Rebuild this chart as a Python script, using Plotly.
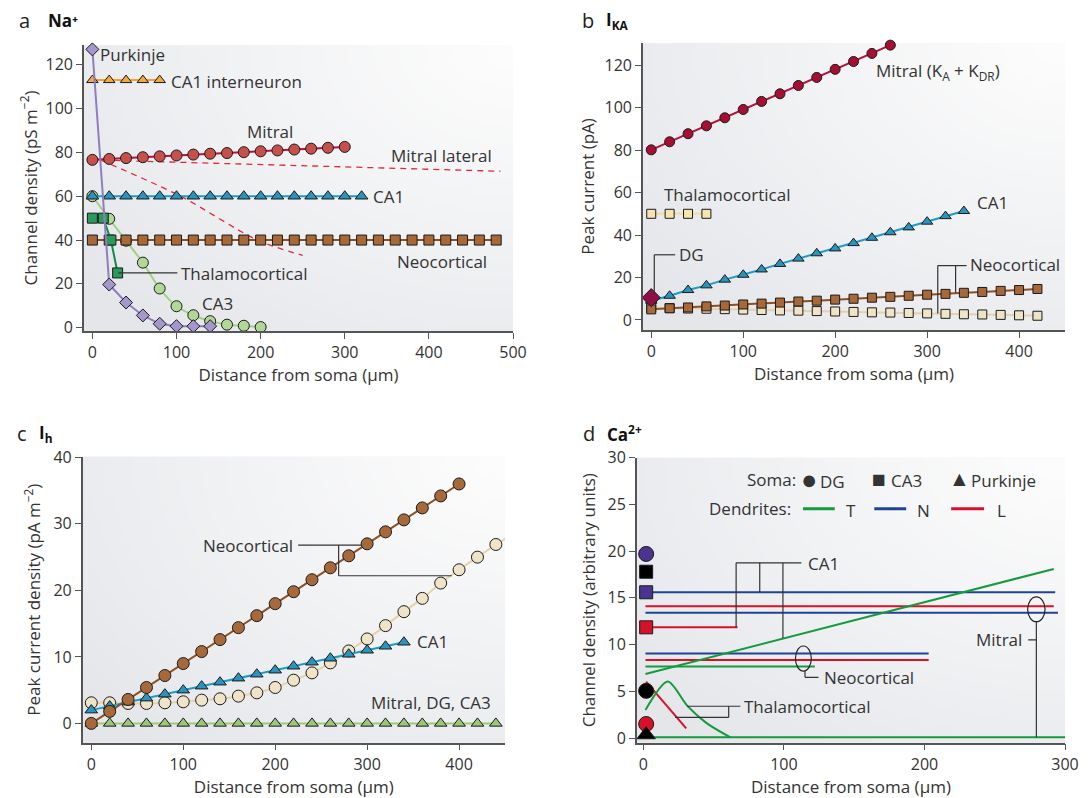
import base64
import struct
import zlib

import numpy as np
import plotly.graph_objects as go

# ---------------- DATA ----------------
dist = [0, 20, 40, 60, 80, 100, 120, 140, 160, 180, 200, 220, 240, 260, 280,
        300, 320, 340, 360, 380, 400, 420, 440, 460, 480]

# Panel a: Na+
a_purkinje_x = [0, 20, 40, 60, 80, 100, 120, 140]
a_purkinje_y = [127, 19.7, 11.5, 5.6, 1.8, 0.7, 0.7, 0.7]
a_ca1int_x = dist[:5]
a_ca1int_y = [113, 113, 113, 113, 113]
a_mitral_x = dist[:16]
a_mitral_y = [76.6, 77.0, 77.4, 77.8, 78.2, 78.6, 79.0, 79.4, 79.7, 80.1,
              80.5, 80.9, 81.3, 81.7, 82.1, 82.5]
a_mitlat1_x = [0, 485]
a_mitlat1_y = [76.6, 71.4]
a_mitlat2_x = [10, 105, 196, 250]
a_mitlat2_y = [76.5, 60, 40, 33]
a_ca1_x = dist[:17]
a_ca1_y = [60] * 17
a_neo_x = dist[:25]
a_neo_y = [40] * 25
a_thal_x = [0, 13, 22, 30]
a_thal_y = [50, 50, 40, 25]
a_ca3_x = dist[:11]
a_ca3_y = [60, 49.7, 39.7, 29.7, 17.9, 9.8, 5.7, 3.0, 1.4, 0.9, 0.3]

# Panel b: I_KA
b_mitral_x = dist[:14]
b_mitral_y = [80.1, 83.9, 87.7, 91.4, 95.2, 99.1, 102.9, 106.5, 110.4, 114.2,
              118.0, 121.7, 125.5, 129.4]
b_thal_x = dist[:4]
b_thal_y = [50, 50, 50, 50]
b_ca1_x = dist[:18]
b_ca1_y = [9.1, 11.4, 14.1, 16.3, 19.0, 21.3, 23.8, 26.4, 28.9, 31.4, 33.7,
           36.2, 38.7, 41.3, 43.6, 46.3, 48.9, 51.3]
b_dg_x = [0]
b_dg_y = [10.5]
b_neo1_x = dist[:22]
b_neo1_y = [5.0, 5.5, 5.9, 6.4, 6.8, 7.3, 7.7, 8.2, 8.7, 9.1, 9.6, 10.0, 10.5,
            10.9, 11.4, 11.9, 12.3, 12.8, 13.2, 13.7, 14.1, 14.6]
b_neo2_x = dist[:22]
b_neo2_y = [5.8, 5.6, 5.4, 5.3, 5.1, 4.9, 4.7, 4.5, 4.4, 4.2, 4.0, 3.8, 3.6,
            3.5, 3.3, 3.1, 2.9, 2.7, 2.6, 2.4, 2.2, 2.0]

# Panel c: I_h
c_neo1_x = dist[:21]
c_neo1_y = [0, 1.8, 3.6, 5.4, 7.2, 9.0, 10.8, 12.6, 14.4, 16.2, 18.0, 19.8,
            21.6, 23.4, 25.2, 27.0, 28.8, 30.6, 32.4, 34.2, 36.0]
c_neo2_x = dist[:23]
c_neo2_y = [3.1, 3.1, 3.0, 3.0, 3.1, 3.25, 3.5, 3.7, 4.1, 4.6, 5.4, 6.5, 7.6,
            9.1, 10.9, 12.7, 14.7, 16.8, 18.8, 21.1, 23.1, 25.0, 26.9]
c_neo2_tail_x = [440, 452]
c_neo2_tail_y = [26.9, 27.9]
c_ca1_x = dist[:18]
c_ca1_y = [2.0, 2.6, 3.2, 3.8, 4.4, 5.0, 5.6, 6.2, 6.8, 7.4, 8.0, 8.6, 9.2,
           9.8, 10.4, 11.0, 11.6, 12.2]
c_mdc_x = dist[:23]
c_mdc_y = [0] * 23

# Panel d: Ca2+
d_soma_x = [2, 2, 2, 2, 2, 2, 2]
d_soma_y = [19.7, 17.8, 15.6, 11.85, 5.05, 1.5, 0.35]
d_soma_symbol = ["circle", "square", "square", "square", "circle", "circle", "triangle-up"]
d_soma_color = ["#4b348f", "#000000", "#4b348f", "#d8102a", "#000000", "#d8102a", "#000000"]

d_mitral_N1_x = [1.5, 293]
d_mitral_N1_y = [15.6, 15.6]
d_mitral_L_x = [1.5, 292]
d_mitral_L_y = [14.1, 14.1]
d_mitral_N2_x = [1.5, 295]
d_mitral_N2_y = [13.4, 13.4]
d_ca3_L_x = [2, 67]
d_ca3_L_y = [11.85, 11.85]
d_mitral_T_x = [1.5, 292]
d_mitral_T_y = [6.85, 18.1]
d_neo_N_x = [1.5, 203]
d_neo_N_y = [9.05, 9.05]
d_neo_L_x = [1.5, 203]
d_neo_L_y = [8.35, 8.35]
d_neo_T_x = [1.5, 122]
d_neo_T_y = [7.65, 7.65]
d_thal_L_x = [1.9, 30.5]
d_thal_L_y = [6.03, 1.04]
d_thal_T_x = [1.5, 17.4, 31, 45, 62]
d_thal_T_y = [3.0, 6.05, 3.5, 1.6, 0.07]
d_flat_T_x = [5, 300]
d_flat_T_y = [0.07, 0.07]

# ---------------- STYLE ----------------
C_PURK = "#8f7dc0"; C_PURK_M = "#a596cc"
C_ORANGE = "#f0a232"; C_ORANGE_M = "#f2aa40"
C_MITRAL = "#b3123c"; C_MITRAL_M = "#c8504a"
C_BLUE = "#1c9bc6"; C_BLUE_M = "#2a94bd"
C_BROWN = "#8a4f25"; C_BROWN_M = "#a8693a"
C_THAL = "#0f8c45"; C_THAL_M = "#2a9a5a"
C_CA3 = "#9fd084"; C_CA3_M = "#b2d896"
C_TAN = "#e6d2a6"; C_TAN_M = "#efe3c8"
C_YEL = "#f5dc98"; C_YEL_M = "#f7e4b0"
C_GREEN3 = "#9acb78"; C_GREEN3_M = "#9cc67c"
C_DG = "#8e0f45"
D_GREEN = "#159a3e"; D_BLUE = "#1f4592"; D_RED = "#d8102a"
TXT = "#333333"
AX = "#555555"
FONT = "Open Sans"


def gradient_png(w=96, h=72):
    yy, xx = np.mgrid[0:h, 0:w]
    d = np.sqrt(((w - 1 - xx) / w) ** 2 + (yy / h) ** 2 * 0.9) / 1.3
    d = np.clip(d, 0, 1) ** 1.1
    c0 = np.array([253, 253, 253], float)
    c1 = np.array([228, 230, 234], float)
    img = (c0[None, None, :] * (1 - d[..., None]) + c1[None, None, :] * d[..., None]).astype(np.uint8)
    raw = b"".join(b"\x00" + img[r].tobytes() for r in range(h))

    def chunk(tag, data):
        return (struct.pack(">I", len(data)) + tag + data +
                struct.pack(">I", zlib.crc32(tag + data) & 0xFFFFFFFF))

    png = (b"\x89PNG\r\n\x1a\n" +
           chunk(b"IHDR", struct.pack(">IIBBBBB", w, h, 8, 2, 0, 0, 0)) +
           chunk(b"IDAT", zlib.compress(raw, 9)) + chunk(b"IEND", b""))
    return "data:image/png;base64," + base64.b64encode(png).decode()


BG = gradient_png()

fig = go.Figure()


def series(x, y, ax, lc, mc=None, sym="circle", size=10, lw=2, dash=None,
           shape="linear", mode="lines+markers"):
    xa = "x" if ax == 1 else f"x{ax}"
    ya = "y" if ax == 1 else f"y{ax}"
    fig.add_trace(go.Scatter(
        x=x, y=y, xaxis=xa, yaxis=ya, mode=mode, showlegend=False,
        hoverinfo="skip", cliponaxis=False,
        line=dict(color=lc, width=lw, dash=dash, shape=shape,
                  smoothing=0.8 if shape == "spline" else None),
        marker=dict(symbol=sym, size=size, color=mc, opacity=1,
                    line=dict(color="#1a1a1a", width=1)),
    ))


# Panel a
series(a_mitlat1_x, a_mitlat1_y, 1, "#e2283a", lw=1.3, dash="6px,5px", mode="lines")
series(a_mitlat2_x, a_mitlat2_y, 1, "#e2283a", lw=1.3, dash="6px,5px", mode="lines", shape="spline")
series(a_ca3_x, a_ca3_y, 1, C_CA3, C_CA3_M, "circle", 11, shape="spline")
series(a_neo_x, a_neo_y, 1, C_BROWN, C_BROWN_M, "square", 10)
series(a_ca1_x, a_ca1_y, 1, C_BLUE, C_BLUE_M, "triangle-up", 11)
series(a_thal_x, a_thal_y, 1, C_THAL, C_THAL_M, "square", 10)
series(a_mitral_x, a_mitral_y, 1, C_MITRAL, C_MITRAL_M, "circle", 11)
series(a_ca1int_x, a_ca1int_y, 1, C_ORANGE, C_ORANGE_M, "triangle-up", 10)
series(a_purkinje_x, a_purkinje_y, 1, C_PURK, C_PURK_M, "diamond", 10)

# Panel b
series(b_neo2_x, b_neo2_y, 2, C_TAN, C_TAN_M, "square", 9)
series(b_neo1_x, b_neo1_y, 2, C_BROWN, C_BROWN_M, "square", 9)
series(b_thal_x, b_thal_y, 2, C_YEL, C_YEL_M, "square", 9)
series(b_ca1_x, b_ca1_y, 2, C_BLUE, C_BLUE_M, "triangle-up", 10)
series(b_dg_x, b_dg_y, 2, C_DG, C_DG, "diamond", 14, mode="markers")
series(b_mitral_x, b_mitral_y, 2, C_MITRAL, "#a50f32", "circle", 10)

# Panel c
series(c_mdc_x, c_mdc_y, 3, C_GREEN3, C_GREEN3_M, "triangle-up", 11)
series(c_neo2_tail_x, c_neo2_tail_y, 3, C_TAN, lw=2, mode="lines")
series(c_neo2_x, c_neo2_y, 3, C_TAN, C_TAN_M, "circle", 12, shape="spline")
series(c_ca1_x, c_ca1_y, 3, C_BLUE, C_BLUE_M, "triangle-up", 11)
series(c_neo1_x, c_neo1_y, 3, C_BROWN, C_BROWN_M, "circle", 12)

# Panel d
for xs, ys, col in [
    (d_mitral_N1_x, d_mitral_N1_y, D_BLUE), (d_mitral_L_x, d_mitral_L_y, D_RED),
    (d_mitral_N2_x, d_mitral_N2_y, D_BLUE), (d_ca3_L_x, d_ca3_L_y, D_RED),
    (d_neo_N_x, d_neo_N_y, D_BLUE), (d_neo_L_x, d_neo_L_y, D_RED),
    (d_neo_T_x, d_neo_T_y, D_GREEN), (d_mitral_T_x, d_mitral_T_y, D_GREEN),
    (d_thal_L_x, d_thal_L_y, D_RED), (d_flat_T_x, d_flat_T_y, D_GREEN),
]:
    series(xs, ys, 4, col, lw=2, mode="lines")
series(d_thal_T_x, d_thal_T_y, 4, D_GREEN, lw=2, mode="lines", shape="spline")
fig.add_trace(go.Scatter(
    x=d_soma_x, y=d_soma_y, xaxis="x4", yaxis="y4", mode="markers",
    showlegend=False, hoverinfo="skip", cliponaxis=False,
    marker=dict(symbol=d_soma_symbol, color=d_soma_color, opacity=1,
                size=[15, 13, 13, 13, 15, 15, 16],
                line=dict(color="#1a1a1a", width=1)),
))

# ---------------- ANNOTATIONS ----------------
ann = []
LS = 17


def label(text, x, y, ax, xanchor="left", size=LS):
    xr = "x" if ax == 1 else f"x{ax}"
    yr = "y" if ax == 1 else f"y{ax}"
    ann.append(dict(text=text, x=x, y=y, xref=xr, yref=yr, showarrow=False,
                    xanchor=xanchor, yanchor="middle",
                    font=dict(size=size, color=TXT, family=FONT)))


label("Purkinje", 7, 124.5, 1)
label("CA1 interneuron", 91, 112.5, 1)
label("Mitral", 211, 89.5, 1, "center")
label("Mitral lateral", 415, 78.5, 1, "center")
label("CA1", 331, 59.8, 1)
label("Neocortical", 360, 30.3, 1)
label("CA3", 128, 11, 1)
label("Thalamocortical", 103, 24.8, 1)

label("Mitral (K<sub>A</sub> + K<sub>DR</sub>)", 242, 117, 2)
label("Thalamocortical", 12, 59, 2)
label("CA1", 352, 55.2, 2)
label("DG", 27.5, 30.8, 2)
label("Neocortical", 345, 26, 2)

label("Neocortical", 222, 26.8, 3, "right")
label("CA1", 352, 12.3, 3)
label("Mitral, DG, CA3", 369, 3.1, 3, "center")

label("CA1", 116, 18.7, 4)
label("Neocortical", 127, 6.5, 4)
label("Thalamocortical", 70, 3.4, 4)
label("Mitral", 271, 10.5, 4, "right")

# Legend in panel d
label("Soma:", 110, 27.7, 4, "right", 17)
label("●", 117.5, 27.8, 4, "center", 27)
label("DG", 124.5, 27.5, 4, "left", 17)
label("■", 168, 27.8, 4, "center", 23)
label("CA3", 175, 27.6, 4, "left", 17)
label("▲", 225, 27.8, 4, "center", 21)
label("Purkinje", 232, 27.6, 4, "left", 17)
label("Dendrites:", 106.5, 24.6, 4, "right", 17)
label("T", 142.5, 24.4, 4, "left", 17)
label("N", 193.5, 24.4, 4, "left", 17)
label("L", 250, 24.4, 4, "left", 17)

# Panel letters and titles
for letter, lx, tx, ty, title in [
    ("a", 17, 46, 20, "<b>Na⁺</b>"),
    ("b", 580, 604, 20, "<b>I<sub>KA</sub></b>"),
    ("c", 15, 37, 433, "<b>I<sub>h</sub></b>"),
    ("d", 581, 605, 433, "<b>Ca<sup>2+</sup></b>"),
]:
    ann.append(dict(text=letter, x=lx / 1092, y=1 - ty / 798, xref="paper", yref="paper",
                    showarrow=False, xanchor="left", yanchor="middle",
                    font=dict(size=20, color="#222", family=FONT)))
    ann.append(dict(text=title, x=tx / 1092, y=1 - ty / 798, xref="paper", yref="paper",
                    showarrow=False, xanchor="left", yanchor="middle",
                    font=dict(size=17, color="#111", family=FONT)))

# ---------------- SHAPES (callouts, legend box) ----------------
shapes = []


def seg(x0, y0, x1, y1, ax, color="#333", w=1.2):
    xr = "x" if ax == 1 else f"x{ax}"
    yr = "y" if ax == 1 else f"y{ax}"
    shapes.append(dict(type="line", x0=x0, y0=y0, x1=x1, y1=y1, xref=xr, yref=yr,
                       line=dict(color=color, width=w)))


seg(31, 25, 101, 25, 1)
seg(3.3, 12, 3.3, 30.7, 2)
seg(3.3, 30.7, 26, 30.7, 2)
seg(311.6, 25.6, 343, 25.6, 2)
seg(311.6, 25.6, 311.6, 3.1, 2)
seg(331, 25.6, 331, 12.8, 2)
seg(225, 26.8, 294, 26.8, 3)
seg(269, 26.8, 269, 22.2, 3)
seg(269, 22.2, 392, 22.2, 3)
# d: CA1
seg(66, 18.75, 112.4, 18.75, 4)
seg(66, 18.75, 66, 11.85, 4)
seg(82.8, 18.75, 82.8, 15.6, 4)
seg(99.3, 18.75, 99.3, 10.7, 4)
# d: neocortical
shapes.append(dict(type="circle", x0=108.2, x1=119.5, y0=7.17, y1=9.85, xref="x4", yref="y4",
                   line=dict(color="#222", width=1.2)))
seg(115, 7.17, 115, 6.5, 4)
seg(115, 6.5, 124.6, 6.5, 4)
# d: mitral
shapes.append(dict(type="circle", x0=273.4, x1=285.8, y0=12.45, y1=15.1, xref="x4", yref="y4",
                   line=dict(color="#222", width=1.2)))
seg(279.6, 12.45, 279.6, 0.07, 4)
seg(273.8, 10.5, 279.6, 10.5, 4)
# d: thalamocortical
seg(31, 3.4, 69, 3.4, 4)
seg(60.7, 3.4, 60.7, 2.2, 4)
seg(22.6, 2.2, 60.7, 2.2, 4)
# legend box
shapes.append(dict(type="rect", x0=38, x1=293.6, y0=22.55, y1=29.6, xref="x4", yref="y4",
                   fillcolor="white", line=dict(color="#333", width=1.2), layer="below"))
seg(113.6, 24.55, 136.2, 24.55, 4, D_GREEN, 3)
seg(164.3, 24.55, 187, 24.55, 4, D_BLUE, 3)
seg(219, 24.55, 242.4, 24.55, 4, D_RED, 3)

# background gradient images
images = []
for k in ["", "2", "3", "4"]:
    images.append(dict(source=BG, xref=f"x{k} domain", yref=f"y{k} domain",
                       x=0, y=1, sizex=1, sizey=1, sizing="stretch",
                       xanchor="left", yanchor="top", layer="below"))


# ---------------- LAYOUT ----------------
def axis(domain, anchor, rng, tickvals, title, standoff):
    return dict(domain=domain, anchor=anchor, range=rng, tickvals=tickvals,
                automargin=False,
                showline=True, linecolor=AX, linewidth=1.5, ticks="outside",
                ticklen=6, tickwidth=1.2, tickcolor=AX, showgrid=False,
                zeroline=False, tickfont=dict(size=16, color=TXT, family=FONT),
                title=dict(text=title, standoff=standoff,
                           font=dict(size=17, color=TXT, family=FONT)))


xt = "Distance from soma (μm)"
fig.update_layout(
    width=1092, height=798,
    margin=dict(l=0, r=0, t=0, b=0),
    paper_bgcolor="white", plot_bgcolor="#f0f1f3",
    font=dict(family=FONT, color=TXT),
    xaxis=axis([0.0769, 0.4698], "y", [-10, 500], [0, 100, 200, 300, 400, 500], xt, 5),
    yaxis=axis([0.5852, 0.9436], "x", [-1.5, 129], [0, 20, 40, 60, 80, 100, 120],
               "Channel density (pS m<sup>−2</sup>)", 4),
    xaxis2=axis([0.5888, 0.9753], "y2", [-9, 450], [0, 100, 200, 300, 400], xt, 5),
    yaxis2=axis([0.5865, 0.9461], "x2", [-4.7, 130.4], [0, 20, 40, 60, 80, 100, 120],
                "Peak current (pA)", 6),
    xaxis3=axis([0.0757, 0.4625], "y3", [-9.4, 450], [0, 100, 200, 300, 400], xt, 5),
    yaxis3=axis([0.0693, 0.4277], "x3", [-2.9, 40.1], [0, 10, 20, 30, 40],
                "Peak current density (pA m<sup>−2</sup>)", 8),
    xaxis4=axis([0.5831, 0.9753], "y4", [-4.7, 300], [0, 100, 200, 300], xt, 5),
    yaxis4=axis([0.0693, 0.4264], "x4", [-0.5, 30], [0, 5, 10, 15, 20, 25, 30],
                "Channel density (arbitrary units)", 8),
    annotations=ann,
    shapes=shapes,
    images=images,
)

fig.write_html("out.html", config={"displayModeBar": False},
               post_script="document.body.style.margin='0px';")
